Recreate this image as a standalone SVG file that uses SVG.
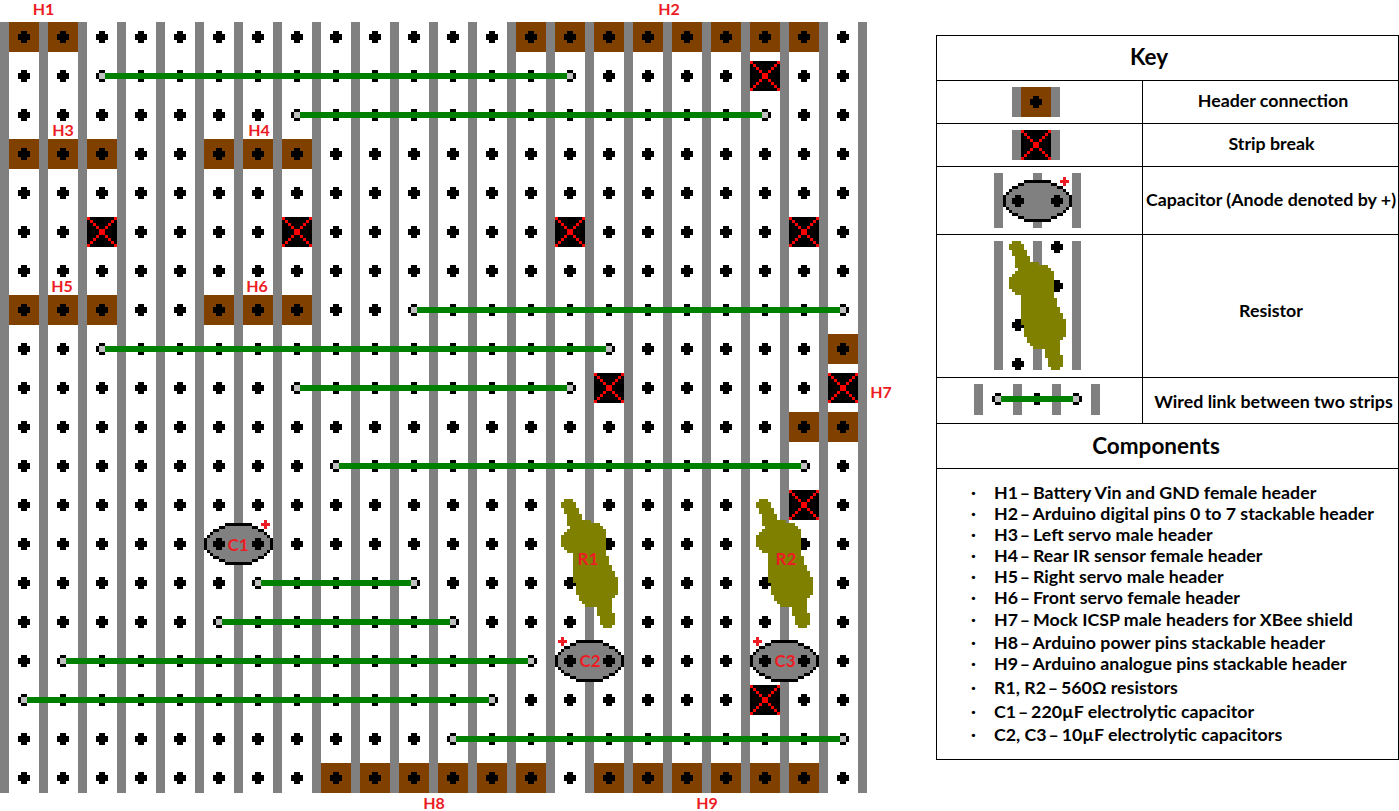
<svg xmlns="http://www.w3.org/2000/svg" width="1399" height="811" viewBox="0 0 1399 811">
<style>
.s{fill:#808080}.h{fill:#000}.b{fill:#804000}.w{fill:#008000}.e{fill:#c0c0c0}.r{fill:#808000}
text{font-family:Lato,"Liberation Sans",sans-serif;font-weight:700}
.l{fill:#ed1c24;font-size:16px;text-anchor:middle}
.m{fill:#ed1c24;font-size:17px;text-anchor:middle}
.k{fill:#000;font-size:17.8px;text-anchor:middle}
.t{fill:#000;font-size:22.5px;text-anchor:middle}
.c{fill:#000;font-size:17.8px}
.g{fill:none;stroke:#000;stroke-width:1}
</style>
<defs>
<path id="hole" d="M-3-6h6v3h3v6h-3v3h-6v-3h-3v-6h3z"/>
<pattern id="holes" x="0" y="22" width="39" height="39" patternUnits="userSpaceOnUse"><path transform="translate(24 15)" d="M-3-6h6v3h3v6h-3v3h-6v-3h-3v-6h3z"/></pattern>
<rect id="hd" class="b" x="-15" y="-15" width="30" height="30"/>
<g id="brk"><rect x="-15" y="-15" width="30" height="30"/><path fill="#f00" d="M-15-15h3v3h-3zM-12-12h3v3h-3zM-9-9h3v3h-3zM-6-6h3v3h-3zM-3-3h6v6h-6zM3 3h3v3h-3zM6 6h3v3h-3zM9 9h3v3h-3zM12 12h3v3h-3zM12-15h3v3h-3zM9-12h3v3h-3zM6-9h3v3h-3zM3-6h3v3h-3zM-6 3h3v3h-3zM-9 6h3v3h-3zM-12 9h3v3h-3zM-15 12h3v3h-3z"/></g>
<g id="cap">
<path d="M-13.5-21H13.5V-18H19.5V-15H25.5V-12H28.5V-9H31.5V-6H34.5V6H31.5V9H28.5V12H25.5V15H19.5V18H13.5V21H-13.5V18H-19.5V15H-25.5V12H-28.5V9H-31.5V6H-34.5V-6H-31.5V-9H-28.5V-12H-25.5V-15H-19.5V-18H-13.5Z"/>
<path class="s" d="M-13.5-18H13.5V-15H19.5V-12H25.5V-9H28.5V-6H31.5V6H28.5V9H25.5V12H19.5V15H13.5V18H-13.5V15H-19.5V12H-25.5V9H-28.5V6H-31.5V-6H-28.5V-9H-25.5V-12H-19.5V-15H-13.5Z"/>
<use href="#hole" x="-19.5"/><use href="#hole" x="19.5"/>
</g>
<path id="res" class="r" d="M24 19H33V22H36V28H39V34H42V40H51V43H60V46H63V49H66V76H69V85H72V91H75V97H78V115H75V118H72V133H75V145H72V148H63V145H60V136H57V127H45V124H42V121H39V115H36V103H33V73H27V70H24V67H21V55H24V52H27V49H30V46H27V34H24V28H21V22H24Z"/>
<path id="plus" fill="#ed1c24" d="M-1.5-4.5h3v3h3v3h-3v3h-3v-3h-3v-3h3z"/>
</defs>
<rect width="1399" height="811" fill="#fff"/>
<g id="board" shape-rendering="crispEdges">
<g id="strips" class="s">
<rect x="0" y="22" width="9" height="771"/><rect x="39" y="22" width="9" height="771"/><rect x="78" y="22" width="9" height="771"/><rect x="117" y="22" width="9" height="771"/><rect x="156" y="22" width="9" height="771"/><rect x="195" y="22" width="9" height="771"/><rect x="234" y="22" width="9" height="771"/><rect x="273" y="22" width="9" height="771"/><rect x="312" y="22" width="9" height="771"/><rect x="351" y="22" width="9" height="771"/><rect x="390" y="22" width="9" height="771"/><rect x="429" y="22" width="9" height="771"/><rect x="468" y="22" width="9" height="771"/><rect x="507" y="22" width="9" height="771"/><rect x="546" y="22" width="9" height="771"/><rect x="585" y="22" width="9" height="771"/><rect x="624" y="22" width="9" height="771"/><rect x="663" y="22" width="9" height="771"/><rect x="702" y="22" width="9" height="771"/><rect x="741" y="22" width="9" height="771"/><rect x="780" y="22" width="9" height="771"/><rect x="819" y="22" width="9" height="771"/><rect x="858" y="22" width="9" height="771"/>
</g>
<g id="headers">
<use href="#hd" x="24" y="37"/><use href="#hd" x="63" y="37"/>
<use href="#hd" x="531" y="37"/><use href="#hd" x="570" y="37"/><use href="#hd" x="609" y="37"/><use href="#hd" x="648" y="37"/><use href="#hd" x="687" y="37"/><use href="#hd" x="726" y="37"/><use href="#hd" x="765" y="37"/><use href="#hd" x="804" y="37"/>
<use href="#hd" x="24" y="154"/><use href="#hd" x="63" y="154"/><use href="#hd" x="102" y="154"/>
<use href="#hd" x="219" y="154"/><use href="#hd" x="258" y="154"/><use href="#hd" x="297" y="154"/>
<use href="#hd" x="24" y="310"/><use href="#hd" x="63" y="310"/><use href="#hd" x="102" y="310"/>
<use href="#hd" x="219" y="310"/><use href="#hd" x="258" y="310"/><use href="#hd" x="297" y="310"/>
<use href="#hd" x="843" y="349"/><use href="#hd" x="804" y="427"/><use href="#hd" x="843" y="427"/>
<use href="#hd" x="336" y="778"/><use href="#hd" x="375" y="778"/><use href="#hd" x="414" y="778"/><use href="#hd" x="453" y="778"/><use href="#hd" x="492" y="778"/><use href="#hd" x="531" y="778"/>
<use href="#hd" x="609" y="778"/><use href="#hd" x="648" y="778"/><use href="#hd" x="687" y="778"/><use href="#hd" x="726" y="778"/><use href="#hd" x="765" y="778"/><use href="#hd" x="804" y="778"/>
</g>
<rect id="hole-grid" x="0" y="22" width="858" height="771" fill="url(#holes)"/>
<g id="breaks">
<use href="#brk" x="765" y="76"/><use href="#brk" x="102" y="232"/><use href="#brk" x="297" y="232"/><use href="#brk" x="570" y="232"/><use href="#brk" x="804" y="232"/><use href="#brk" x="609" y="388"/><use href="#brk" x="843" y="388"/><use href="#brk" x="804" y="505"/><use href="#brk" x="765" y="700"/>
</g>
<g id="connectors">
<g class="w">
<rect x="105" y="73" width="462" height="6"/><rect x="300" y="112" width="462" height="6"/><rect x="417" y="307" width="423" height="6"/><rect x="105" y="346" width="501" height="6"/><rect x="300" y="385" width="267" height="6"/><rect x="339" y="463" width="462" height="6"/><rect x="261" y="580" width="150" height="6"/><rect x="222" y="619" width="228" height="6"/><rect x="66" y="658" width="462" height="6"/><rect x="27" y="697" width="462" height="6"/><rect x="456" y="736" width="384" height="6"/>
</g>
<g class="e">
<rect x="99" y="73" width="6" height="6"/><rect x="567" y="73" width="6" height="6"/><rect x="294" y="112" width="6" height="6"/><rect x="762" y="112" width="6" height="6"/><rect x="411" y="307" width="6" height="6"/><rect x="840" y="307" width="6" height="6"/><rect x="99" y="346" width="6" height="6"/><rect x="606" y="346" width="6" height="6"/><rect x="294" y="385" width="6" height="6"/><rect x="567" y="385" width="6" height="6"/><rect x="333" y="463" width="6" height="6"/><rect x="801" y="463" width="6" height="6"/><rect x="255" y="580" width="6" height="6"/><rect x="411" y="580" width="6" height="6"/><rect x="216" y="619" width="6" height="6"/><rect x="450" y="619" width="6" height="6"/><rect x="60" y="658" width="6" height="6"/><rect x="528" y="658" width="6" height="6"/><rect x="21" y="697" width="6" height="6"/><rect x="489" y="697" width="6" height="6"/><rect x="450" y="736" width="6" height="6"/><rect x="840" y="736" width="6" height="6"/>
</g>
</g>
<g id="C1"><use href="#cap" x="238.5" y="544"/><use href="#plus" x="265.5" y="524.5"/></g>
<g id="C2"><use href="#cap" x="589.5" y="661"/><use href="#plus" x="562.5" y="641.5"/></g>
<g id="C3"><use href="#cap" x="784.5" y="661"/><use href="#plus" x="757.5" y="641.5"/></g>
<g id="R1"><use href="#res" x="540" y="480"/></g>
<g id="R2"><use href="#res" x="735" y="480"/></g>
</g>
<g id="labels">
<text class="l" x="43.5" y="15">H1</text><text class="l" x="669" y="15">H2</text><text class="l" x="63" y="136">H3</text><text class="l" x="259" y="136">H4</text><text class="l" x="62" y="292">H5</text><text class="l" x="257" y="292">H6</text><text class="l" x="881" y="398">H7</text><text class="l" x="434" y="809">H8</text><text class="l" x="707" y="809">H9</text>
<text class="m" x="238" y="550.5">C1</text><text class="m" x="590" y="667">C2</text><text class="m" x="785" y="667">C3</text><text class="m" x="588" y="565">R1</text><text class="m" x="786" y="565">R2</text>
</g>
<g id="key">
<g id="key-lines">
<rect class="g" x="936.5" y="35.5" width="462" height="724"/>
<path class="g" d="M936 80.5H1398M936 123.5H1398M936 166.5H1398M936 234.5H1398M936 377.5H1398M936 423.5H1398M936 468.5H1398M1142.5 80V424"/>
</g>
<text class="t" x="1149" y="64.5">Key</text>
<g id="key-header" shape-rendering="crispEdges"><rect class="s" x="1012" y="87" width="9" height="30"/><rect class="s" x="1051" y="87" width="9" height="30"/><use href="#hd" x="1036" y="102"/><use href="#hole" x="1036" y="102"/></g>
<text class="k" x="1273" y="107">Header connection</text>
<g id="key-break" shape-rendering="crispEdges"><rect class="s" x="1012" y="130" width="9" height="30"/><rect class="s" x="1051" y="130" width="9" height="30"/><use href="#brk" x="1036" y="145"/></g>
<text class="k" x="1271.5" y="150">Strip break</text>
<g id="key-cap" shape-rendering="crispEdges"><rect class="s" x="994" y="173" width="9" height="55"/><rect class="s" x="1033" y="173" width="9" height="55"/><rect class="s" x="1072" y="173" width="9" height="55"/><use href="#cap" x="1037.5" y="201"/><use href="#plus" x="1064.5" y="181.5"/></g>
<text class="k" x="1271" y="206">Capacitor (Anode denoted by +)</text>
<g id="key-res" shape-rendering="crispEdges"><rect class="s" x="994" y="241" width="9" height="129"/><rect class="s" x="1033" y="241" width="9" height="129"/><rect class="s" x="1072" y="241" width="9" height="129"/><use href="#hole" x="1057" y="247"/><use href="#hole" x="1057" y="286"/><use href="#hole" x="1018" y="325"/><use href="#hole" x="1018" y="364"/><use href="#res" x="988" y="222"/></g>
<text class="k" x="1271" y="317">Resistor</text>
<g id="key-link" shape-rendering="crispEdges"><rect class="s" x="974" y="384" width="9" height="31"/><rect class="s" x="1013" y="384" width="9" height="31"/><rect class="s" x="1052" y="384" width="9" height="31"/><rect class="s" x="1091" y="384" width="9" height="31"/><use href="#hole" x="998" y="399"/><use href="#hole" x="1037" y="399"/><use href="#hole" x="1076" y="399"/><rect class="w" x="1001" y="396" width="72" height="6"/><rect class="e" x="995" y="396" width="6" height="6"/><rect class="e" x="1073" y="396" width="6" height="6"/></g>
<text class="k" x="1273.5" y="408">Wired link between two strips</text>
<text class="t" x="1156" y="453.5">Components</text>
<g id="components">
<text class="c" x="971" y="499">·</text><text class="c" x="994" y="499">H1 <tspan dx="-2.5">–</tspan> <tspan dx="-1.5">Battery Vin and GND female header</tspan></text>
<text class="c" x="971" y="520">·</text><text class="c" x="994" y="520">H2 <tspan dx="-2.5">–</tspan> <tspan dx="-1.5">Arduino digital pins 0 to 7 stackable header</tspan></text>
<text class="c" x="971" y="541">·</text><text class="c" x="994" y="541">H3 <tspan dx="-2.5">–</tspan> <tspan dx="-1.5">Left servo male header</tspan></text>
<text class="c" x="971" y="562">·</text><text class="c" x="994" y="562">H4 <tspan dx="-2.5">–</tspan> <tspan dx="-1.5">Rear IR sensor female header</tspan></text>
<text class="c" x="971" y="583">·</text><text class="c" x="994" y="583">H5 <tspan dx="-2.5">–</tspan> <tspan dx="-1.5">Right servo male header</tspan></text>
<text class="c" x="971" y="604">·</text><text class="c" x="994" y="604">H6 <tspan dx="-2.5">–</tspan> <tspan dx="-1.5">Front servo female header</tspan></text>
<text class="c" x="971" y="626">·</text><text class="c" x="994" y="626">H7 <tspan dx="-2.5">–</tspan> <tspan dx="-1.5">Mock ICSP male headers for XBee shield</tspan></text>
<text class="c" x="971" y="649">·</text><text class="c" x="994" y="649">H8 <tspan dx="-2.5">–</tspan> <tspan dx="-1.5">Arduino power pins stackable header</tspan></text>
<text class="c" x="971" y="670">·</text><text class="c" x="994" y="670">H9 <tspan dx="-2.5">–</tspan> <tspan dx="-1.5">Arduino analogue pins stackable header</tspan></text>
<text class="c" x="971" y="694">·</text><text class="c" x="994" y="694">R1, R2 <tspan dx="-2.5">–</tspan> <tspan dx="-1.5">560Ω resistors</tspan></text>
<text class="c" x="971" y="718">·</text><text class="c" x="994" y="718">C1 <tspan dx="-2.5">–</tspan> <tspan dx="-1.5">220µF electrolytic capacitor</tspan></text>
<text class="c" x="971" y="741">·</text><text class="c" x="994" y="741">C2, C3 <tspan dx="-2.5">–</tspan> <tspan dx="-1.5">10µF electrolytic capacitors</tspan></text>
</g>
</g>
</svg>
